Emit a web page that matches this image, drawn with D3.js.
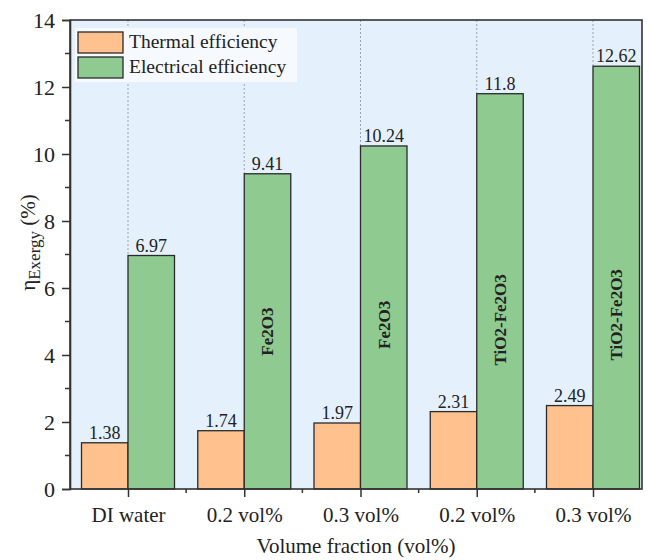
<!DOCTYPE html>
<html>
<head>
<meta charset="utf-8">
<script src="https://cdn.jsdelivr.net/npm/d3@7"></script>
<style>
  html, body { margin: 0; padding: 0; background: #ffffff; }
  svg { display: block; }
  svg text { font-family: "Liberation Serif", "Times New Roman", serif !important; fill: #222; }
</style>
</head>
<body>
<svg id="chart" width="649" height="560"></svg>
<script>
// Exergy efficiency per sample
const categories = ["DI water", "0.2 vol%", "0.3 vol%", "0.2 vol%", "0.3 vol%"];
const thermal = [1.38, 1.74, 1.97, 2.31, 2.49];
const electrical = [6.97, 9.41, 10.24, 11.8, 12.62];
const thermalLabels = ["1.38", "1.74", "1.97", "2.31", "2.49"];
const electricalLabels = ["6.97", "9.41", "10.24", "11.8", "12.62"];
// Nanofluid name written inside each electrical bar, and its vertical centre (in %)
const fluidNames = ["", "Fe2O3", "Fe2O3", "TiO2-Fe2O3", "TiO2-Fe2O3"];
const fluidNameMid = [0, 4.7, 4.9, 5.05, 5.2];
const yTicks = [0, 2, 4, 6, 8, 10, 12, 14];
const yMinorTicks = [1, 3, 5, 7, 9, 11, 13];
const seriesNames = ["Thermal efficiency", "Electrical efficiency"];
const seriesColors = ["#ffc28e", "#8fca90"];

const svg = d3.select("#chart");
const plot = { left: 70, right: 642, top: 20, bottom: 489 };

const x = d3.scaleLinear().domain([0, 4]).range([128, 593]);
const y = d3.scaleLinear().domain([0, 14]).range([plot.bottom, plot.top]);
const step = x(1) - x(0);
const barW = step * 0.4;

// plot background
svg.append("rect")
  .attr("x", plot.left).attr("y", plot.top)
  .attr("width", plot.right - plot.left).attr("height", plot.bottom - plot.top)
  .attr("fill", "#e4f1fc");

// dotted guide lines from the top frame down to each electrical bar
svg.append("g").selectAll("line").data(electrical).join("line")
  .attr("x1", (d, i) => x(i)).attr("x2", (d, i) => x(i))
  .attr("y1", plot.top).attr("y2", d => y(d))
  .attr("stroke", "#9aa3ad").attr("stroke-width", 1)
  .attr("stroke-dasharray", "2,2");

// bars
const bars = svg.append("g");
bars.selectAll("rect.th").data(thermal).join("rect").attr("class", "th")
  .attr("x", (d, i) => x(i) - barW).attr("width", barW)
  .attr("y", d => y(d)).attr("height", d => y(0) - y(d))
  .attr("fill", seriesColors[0]).attr("stroke", "#2a2a2a").attr("stroke-width", 1.3);
bars.selectAll("rect.el").data(electrical).join("rect").attr("class", "el")
  .attr("x", (d, i) => x(i)).attr("width", barW)
  .attr("y", d => y(d)).attr("height", d => y(0) - y(d))
  .attr("fill", seriesColors[1]).attr("stroke", "#2a2a2a").attr("stroke-width", 1.3);

// value labels
const vl = svg.append("g").attr("font-size", 18).attr("text-anchor", "middle");
vl.selectAll("text.th").data(thermal).join("text").attr("class", "th")
  .attr("x", (d, i) => x(i) - barW / 2).attr("y", d => y(d) - 4)
  .text((d, i) => thermalLabels[i]);
vl.selectAll("text.el").data(electrical).join("text").attr("class", "el")
  .attr("x", (d, i) => x(i) + barW / 2).attr("y", d => y(d) - 4)
  .text((d, i) => electricalLabels[i]);

// fluid names inside the electrical bars
const names = fluidNames.map((name, i) => ({ name, i, mid: fluidNameMid[i] })).filter(d => d.name);
svg.append("g").selectAll("text").data(names).join("text")
  .attr("transform", d => `translate(${x(d.i) + barW / 2},${y(d.mid)}) rotate(-90)`)
  .attr("text-anchor", "middle").attr("dy", "0.35em")
  .attr("font-size", 17).attr("font-weight", "bold")
  .text(d => d.name);

// frame
svg.append("rect")
  .attr("x", plot.left).attr("y", plot.top)
  .attr("width", plot.right - plot.left).attr("height", plot.bottom - plot.top)
  .attr("fill", "none").attr("stroke", "#333").attr("stroke-width", 1.6);

// y axis
const yAxis = svg.append("g").attr("transform", `translate(${plot.left},0)`)
  .call(d3.axisLeft(y).tickValues(yTicks).tickSize(8).tickPadding(7).tickFormat(d3.format("d")));
yAxis.select(".domain").attr("stroke", "#333").attr("stroke-width", 1.6);
yAxis.selectAll(".tick line").attr("stroke", "#333").attr("stroke-width", 1.5);
yAxis.selectAll("text").attr("font-size", 22).attr("fill", "#222");
svg.append("g").selectAll("line").data(yMinorTicks).join("line")
  .attr("x1", plot.left - 5).attr("x2", plot.left)
  .attr("y1", d => y(d)).attr("y2", d => y(d))
  .attr("stroke", "#333").attr("stroke-width", 1.5);

// x axis
const xAxis = svg.append("g").attr("transform", `translate(0,${plot.bottom})`)
  .call(d3.axisBottom(x).tickValues(d3.range(categories.length)).tickSize(8).tickPadding(10)
    .tickFormat(i => categories[i]));
xAxis.select(".domain").remove();
xAxis.selectAll(".tick line").attr("stroke", "#333").attr("stroke-width", 1.5);
xAxis.selectAll("text").attr("font-size", 21).attr("fill", "#222");
svg.append("g").selectAll("line").data(d3.range(categories.length - 1)).join("line")
  .attr("x1", d => x(d + 0.5)).attr("x2", d => x(d + 0.5))
  .attr("y1", plot.bottom).attr("y2", plot.bottom + 4)
  .attr("stroke", "#333").attr("stroke-width", 1.5);

// axis titles
svg.append("text")
  .attr("x", (plot.left + plot.right) / 2).attr("y", 553)
  .attr("text-anchor", "middle").attr("font-size", 21)
  .text("Volume fraction (vol%)");
const yt = svg.append("text")
  .attr("transform", `translate(35,${(plot.top + plot.bottom) / 2 - 12}) rotate(-90)`)
  .attr("text-anchor", "middle").attr("font-size", 21);
yt.append("tspan").text("η");
yt.append("tspan").attr("font-size", 17).attr("dy", 5).text("Exergy");
yt.append("tspan").attr("dy", -5).text(" (%)");

// legend
const legend = svg.append("g");
legend.append("rect").attr("x", 75).attr("y", 28).attr("width", 222).attr("height", 54)
  .attr("fill", "#f6fafe");
seriesNames.forEach((name, i) => {
  const g = legend.append("g").attr("transform", `translate(78,${32 + i * 25})`);
  g.append("rect").attr("width", 45).attr("height", 21)
    .attr("fill", seriesColors[i]).attr("stroke", "#2a2a2a").attr("stroke-width", 1.3);
  g.append("text").attr("x", 51).attr("y", 16).attr("font-size", 19.5).text(name);
});
</script>
</body>
</html>
